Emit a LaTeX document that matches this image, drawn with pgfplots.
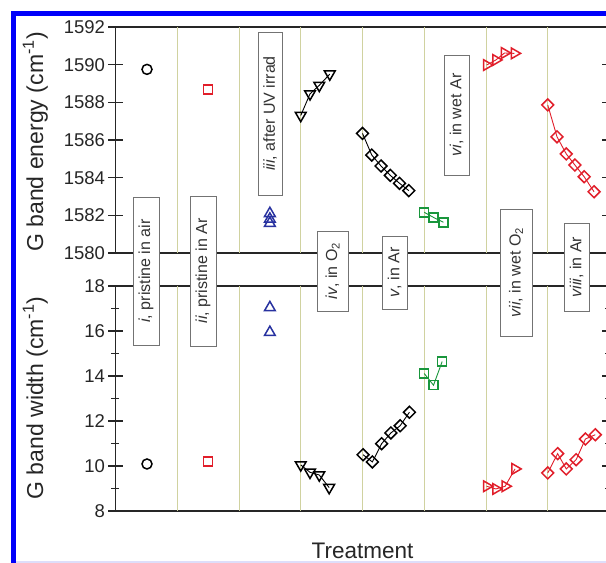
\documentclass[border=0pt]{standalone}
\usepackage{fontspec}
\setmainfont{Liberation Sans}
\usepackage{pgfplots}
\pgfplotsset{compat=1.18}
\definecolor{gridol}{RGB}{208,210,160}
\definecolor{mred}{RGB}{225,30,42}
\definecolor{mgreen}{RGB}{25,150,60}
\definecolor{mblue}{RGB}{40,50,160}
\definecolor{bordblue}{RGB}{0,0,250}
\definecolor{lav}{RGB}{222,222,250}
\pgfplotsset{
  common/.style={
    scale only axis, anchor=south west,
    width=494pt, xmin=0, xmax=8, xtick=\empty,
    minor y tick num=1, tick align=center,
    major tick length=14pt, minor tick length=8pt,
    axis line style={line width=1.4pt, black!85},
    every tick/.style={black!85, line width=1.2pt},
    /pgf/number format/assume math mode=true,
    /pgf/number format/1000 sep={},
    yticklabel style={font=\fontsize{18.5}{18.5}\selectfont, black!85},
    clip=false,
  },
  cmk/.style={black, mark=o, mark size=5pt, only marks, mark options={line width=1.5pt}},
  sqm/.style={mred, mark=square, mark size=4.5pt, only marks, mark options={line width=1.5pt}},
  tbl/.style={mblue, mark=triangle, mark size=6.2pt, only marks, mark options={line width=1.5pt}},
  tdn/.style={black, line width=0.9pt, mark=triangle, mark size=6.2pt, mark options={rotate=180, line width=1.5pt}},
  dbk/.style={black, line width=0.9pt, mark=square, mark size=4.2pt, mark options={rotate=45, line width=1.5pt}},
  sgr/.style={mgreen, line width=0.9pt, mark=square, mark size=4.5pt, mark options={line width=1.5pt}},
  trd/.style={mred, line width=0.9pt, mark=triangle, mark size=6.2pt, mark options={rotate=-90, line width=1.5pt}},
  drd/.style={mred, line width=0.9pt, mark=square, mark size=4.2pt, mark options={rotate=45, line width=1.5pt}},
}
\tikzset{tbox/.style={draw=black!55, line width=0.8pt, fill=white, rotate=90, inner sep=0pt,
  text=black!80, font=\fontsize{16}{16}\selectfont}}
\begin{document}
\begin{tikzpicture}
\path[use as bounding box] (0pt,0pt) rectangle (606pt,563pt);
\clip (0pt,0pt) rectangle (606pt,563pt);
\fill[white] (0pt,0pt) rectangle (606pt,563pt);
% top axis
\begin{axis}[common, at={(115.5pt,310pt)}, height=226pt, ymin=1580, ymax=1592,
  ytick={1580,1582,...,1592}]
\pgfplotsinvokeforeach{1,...,7}{\draw[gridol, line width=0.9pt] (axis cs:#1,1580) -- (axis cs:#1,1592);}
\addplot[cmk] coordinates {(0.51,1589.75)};
\addplot[sqm] coordinates {(1.5,1588.69)};
\addplot[tbl] coordinates {(2.5,1582.1) (2.5,1581.8) (2.5,1581.58)};
\addplot[tdn] coordinates {(3.0,1587.3) (3.15,1588.45) (3.30,1588.9) (3.47,1589.5)};
\addplot[dbk] coordinates {(4.0,1586.35) (4.15,1585.2) (4.30,1584.62) (4.45,1584.12) (4.60,1583.7) (4.75,1583.31)};
\addplot[sgr] coordinates {(5.0,1582.16) (5.15,1581.89) (5.31,1581.63)};
\addplot[trd] coordinates {(6.01,1589.98) (6.16,1590.25) (6.30,1590.62) (6.46,1590.6)};
\addplot[drd] coordinates {(7.0,1587.86) (7.15,1586.17) (7.30,1585.26) (7.44,1584.67) (7.59,1584.05) (7.75,1583.25)};
\end{axis}
% bottom axis
\begin{axis}[common, at={(115.5pt,52pt)}, height=225pt, ymin=8, ymax=18,
  ytick={8,10,...,18}]
\pgfplotsinvokeforeach{1,...,7}{\draw[gridol, line width=0.9pt] (axis cs:#1,8) -- (axis cs:#1,18);}
\addplot[cmk] coordinates {(0.51,10.09)};
\addplot[sqm] coordinates {(1.5,10.19)};
\addplot[tbl] coordinates {(2.5,17.04) (2.5,15.94)};
\addplot[tdn] coordinates {(3.0,10.05) (3.15,9.72) (3.30,9.6) (3.46,9.04)};
\addplot[dbk] coordinates {(4.01,10.5) (4.16,10.18) (4.31,10.99) (4.46,11.47) (4.61,11.79) (4.76,12.39)};
\addplot[sgr] coordinates {(5.0,14.11) (5.15,13.59) (5.29,14.64)};
\addplot[trd] coordinates {(6.01,9.1) (6.16,8.98) (6.31,9.1) (6.47,9.87)};
\addplot[drd] coordinates {(7.0,9.69) (7.16,10.55) (7.30,9.87) (7.46,10.28) (7.61,11.2) (7.77,11.39)};
\end{axis}
% labelled boxes
\node[tbox, minimum width=148pt, minimum height=26pt] at (146pt,292pt) {\textit{i}, pristine in air};
\node[tbox, minimum width=150pt, minimum height=26pt] at (203pt,292pt) {\textit{ii}, pristine in Ar};
\node[tbox, minimum width=163pt, minimum height=24pt] at (270pt,449.5pt) {\textit{iii}, after UV irrad};
\node[tbox, minimum width=80pt, minimum height=31pt] at (332.5pt,292pt) {\textit{iv}, in O\textsubscript{2}};
\node[tbox, minimum width=73pt, minimum height=25pt] at (394.5pt,290.5pt) {\textit{v}, in Ar};
\node[tbox, minimum width=120pt, minimum height=25pt] at (456.5pt,448pt) {\textit{vi}, in wet Ar};
\node[tbox, minimum width=127pt, minimum height=32pt] at (516pt,290.5pt) {\textit{vii}, in wet O\textsubscript{2}};
\node[tbox, minimum width=88pt, minimum height=25pt] at (576.5pt,296pt) {\textit{viii}, in Ar};
% axis labels
\node[rotate=90, anchor=base, font=\fontsize{23}{23}\selectfont, black!85] at (43pt,421pt) {G band energy (cm\textsuperscript{-1})};
\node[rotate=90, anchor=base, font=\fontsize{23}{23}\selectfont, black!85] at (43pt,165pt) {G band width (cm\textsuperscript{-1})};
\node[anchor=base, font=\fontsize{22.5}{22.5}\selectfont, black!85] at (362.5pt,4pt) {Treatment};
% border
\fill[bordblue] (11pt,0pt) rectangle (15.5pt,552pt);
\fill[bordblue] (11pt,547pt) rectangle (606pt,552pt);
\fill[lav] (15.5pt,0pt) rectangle (606pt,2pt);
\end{tikzpicture}
\end{document}
